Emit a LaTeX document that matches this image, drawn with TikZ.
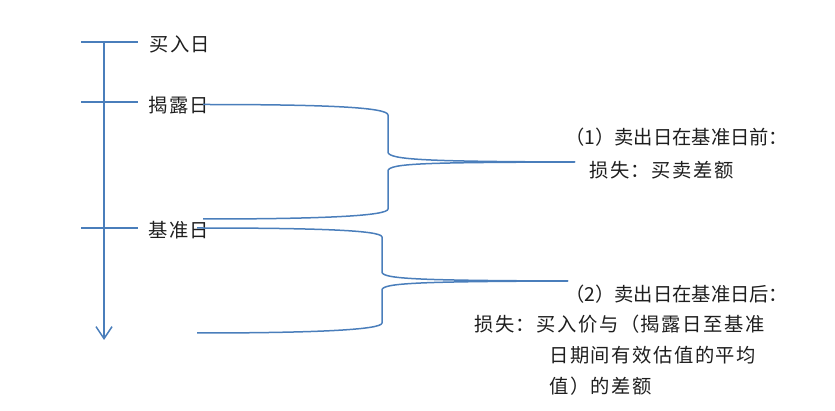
\documentclass[tikz,border=0pt]{standalone}
\usepackage{fontspec}
\newfontfamily\cjk{Noto Sans CJK SC}
\newfontfamily\cjkw[LetterSpace=8]{Noto Sans CJK SC}
\usetikzlibrary{arrows.meta}
\definecolor{lineblue}{RGB}{74,126,187}
\definecolor{txt}{RGB}{30,30,30}
\begin{document}
\begin{tikzpicture}[x=1pt,y=-1pt,
  blue line/.style={draw=lineblue,line width=1.5pt},
  lbl/.style={inner sep=0pt,anchor=west,text=txt,font=\cjk\fontsize{19.3}{22}\selectfont},
  lblw/.style={inner sep=0pt,anchor=west,text=txt,font=\cjkw\fontsize{19.3}{22}\selectfont}]
\useasboundingbox (0,0) rectangle (835,411);
% timeline
\coordinate (top) at (104,42);
\coordinate (bot) at (104,340);
\draw[blue line,-{Straight Barb[length=12pt,width=16pt,line width=1.5pt]}] (top) -- (bot);
\coordinate (t1l) at (81,42);  \coordinate (t1r) at (138,42);
\coordinate (t2l) at (81,102); \coordinate (t2r) at (138,102);
\coordinate (t3l) at (81,228); \coordinate (t3r) at (138,228);
\draw[blue line] (t1l) -- (t1r);
\draw[blue line] (t2l) -- (t2r);
\draw[blue line] (t3l) -- (t3r);
\node[lblw] (buy) at (149,44) {买入日};
\node[lblw] (reveal) at (148,105) {揭露日};
\node[lblw] (base) at (148,230) {基准日};
% bracket 1
\coordinate (a1) at (203,104.5);
\coordinate (a2) at (388,115);
\coordinate (a3) at (388,152);
\coordinate (a4) at (388,171);
\coordinate (a5) at (388,209);
\coordinate (a6) at (203,219);
\coordinate (tip1) at (575,162);
\draw[blue line] (a1) .. controls (320,104.5) and (388,107) .. (a2) -- (a3)
  .. controls (388,160) and (430,161.5) .. (tip1);
\draw[blue line] (a6) .. controls (320,219) and (388,216) .. (a5) -- (a4)
  .. controls (388,163) and (430,162.5) .. (tip1);
% bracket 2
\coordinate (b1) at (197,228);
\coordinate (b2) at (382,237);
\coordinate (b3) at (382,272);
\coordinate (b4) at (382,290);
\coordinate (b5) at (382,323);
\coordinate (b6) at (197,333);
\coordinate (tip2) at (568,281);
\draw[blue line] (b1) .. controls (310,228) and (382,230) .. (b2) -- (b3)
  .. controls (382,279) and (420,280.5) .. (tip2);
\draw[blue line] (b6) .. controls (310,333) and (382,330) .. (b5) -- (b4)
  .. controls (382,283) and (420,281.5) .. (tip2);
% texts
\node[lbl] (c1a) at (565,137) {（1）卖出日在基准日前：};
\node[lblw] (c1b) at (589,170) {损失：买卖差额};
\node[lbl] (c2a) at (565,294) {（2）卖出日在基准日后：};
\node[lblw] (c2b) at (474,324) {损失：买入价与（揭露日至基准};
\node[lblw] (c2c) at (549,355) {日期间有效估值的平均};
\node[lblw] (c2d) at (549,386) {值）的差额};
\end{tikzpicture}
\end{document}
